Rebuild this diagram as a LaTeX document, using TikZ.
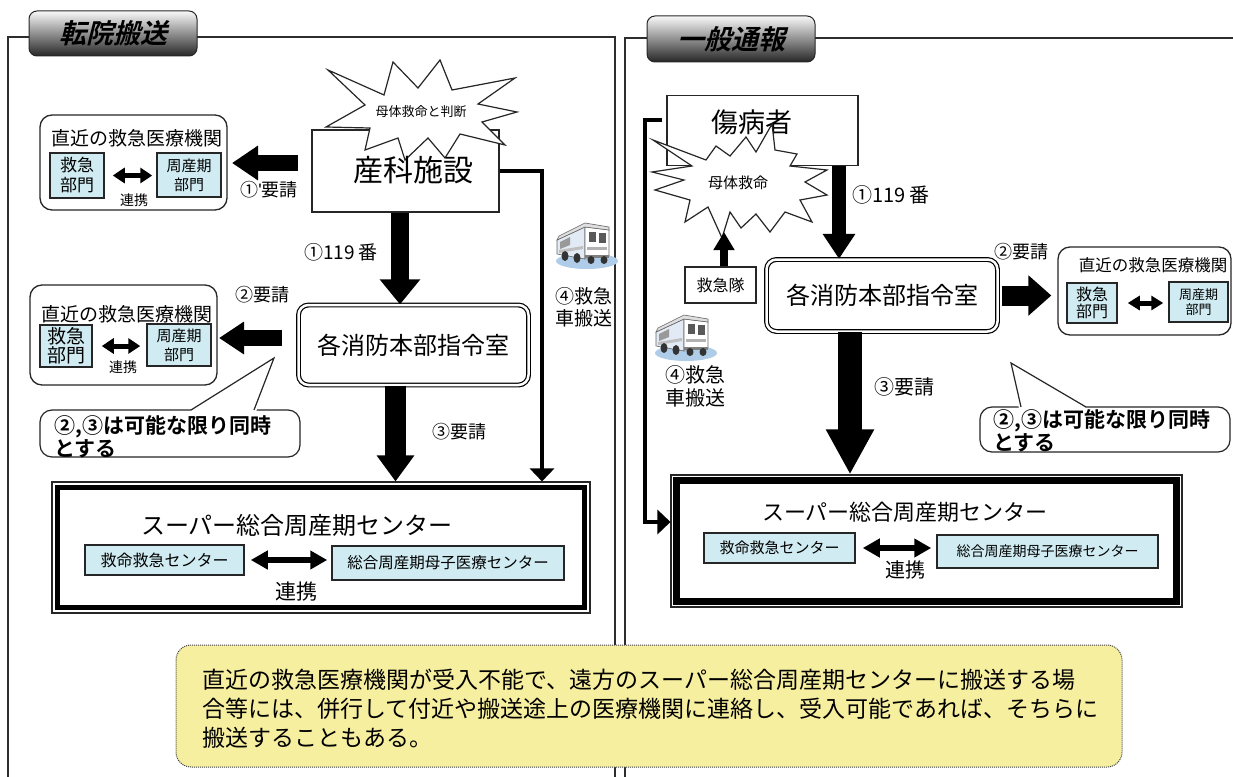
\documentclass[tikz,border=0pt]{standalone}
\usepackage{fontspec}
\setmainfont{Noto Sans CJK JP}[BoldFont={Noto Sans CJK JP Bold}]
\newfontfamily\tabfont{Noto Sans CJK JP Bold}[FakeSlant=0.25]
\newfontfamily\latinf{Liberation Sans}
\usetikzlibrary{arrows.meta,calc}
\definecolor{subblue}{RGB}{208,236,242}
\definecolor{noteyel}{RGB}{247,239,160}
\definecolor{framegray}{RGB}{45,45,45}
\definecolor{shadowblue}{RGB}{175,205,232}
\definecolor{sideblue}{RGB}{226,234,245}
\newcommand\fs[2]{\fontsize{#1pt}{#2pt}\selectfont}
\tikzset{
  t/.style={inner sep=0pt, align=center},
  frame/.style={draw=framegray, line width=1.6pt},
  tab/.style={draw=black!85, line width=1pt, rounded corners=8pt, top color=gray!5, middle color=gray!50, bottom color=black!85, inner sep=0pt},
  plainbox/.style={draw=black!85, line width=1.3pt, fill=white, inner sep=0pt},
  hospbox/.style={draw=black!85, line width=1.3pt, rounded corners=12pt, fill=white, inner sep=0pt},
  subbox/.style={draw=black!85, line width=1.5pt, fill=subblue, inner sep=0pt, align=center},
  dblbox/.style={draw=black, double=white, double distance=2.5pt, line width=1.2pt, rounded corners=10pt, fill=white, inner sep=0pt},
  superbox/.style={draw=black!85, line width=1.1pt, fill=white, inner sep=0pt},
  blk/.style n args={3}{draw=black, line width=#1, -{Triangle[width=#2,length=#3]}},
  twoway/.style n args={3}{draw=black, line width=#1, {Triangle[width=#2,length=#3]}-{Triangle[width=#2,length=#3]}},
  thinarr/.style={draw=black, line width=4pt, -{Triangle[width=24pt,length=13pt]}},
  burst/.style={draw=black!85, line width=1.2pt, fill=white, line join=miter},
  bubble/.style={draw=black!85, line width=1.2pt, fill=white},
  notebox/.style={draw=black!75, line width=1pt, dash pattern=on 1pt off 1pt, fill=noteyel, rounded corners=15pt},
  amb/.pic={
    \fill[shadowblue] (4,17) ellipse (31pt and 8pt);
    \filldraw[fill=sideblue, draw=black!60, line width=0.6pt] (-26,-4) -- (2,-17) -- (2,15) -- (-26,10) -- cycle;
    \filldraw[fill=white, draw=black!60, line width=0.6pt] (2,-17) -- (26,-14) -- (26,12) -- (2,15) -- cycle;
    \filldraw[fill=gray!25, draw=black!60, line width=0.6pt] (-26,-4) -- (-24,-8) -- (2,-21) -- (26,-17) -- (26,-14) -- (2,-17) -- cycle;
    \fill[black!65] (6,-12) rectangle (13,-2);
    \fill[black!65] (16,-11) rectangle (23,-1);
    \fill[black!40] (-23,-2) -- (-13,-7) -- (-13,1) -- (-23,5) -- cycle;
    \fill[black!30] (4,3) rectangle (24,6);
    \fill[black!25] (-24,6) -- (0,2) -- (0,5) -- (-24,9) -- cycle;
    \fill[black!50] (2,11) rectangle (26,14);
    \fill[black!80] (-18,12) ellipse (3.5pt and 5pt);
    \fill[black!80] (-6,14) ellipse (3.5pt and 5pt);
    \fill[black!80] (8,16) ellipse (3.5pt and 4pt);
    \fill[black!80] (21,16) ellipse (3.5pt and 4pt);
  }
}
\begin{document}
\begin{tikzpicture}[x=1pt,y=-1pt]
\useasboundingbox (0,0) rectangle (1233,776);
\fill[white] (0,0) rectangle (1233,776);

% ---------- frames and tabs ----------
\draw[frame] (8,800) -- (8,37) -- (615,37) -- (615,800);
\draw[frame] (625,800) -- (625,38) -- (1245,38);
\node[tab, minimum width=168pt, minimum height=45pt, font=\tabfont\fs{27}{30}] (tab1) at (113,33.5) {転院搬送};
\node[tab, minimum width=168pt, minimum height=46pt, font=\tabfont\fs{27}{30}] (tab2) at (731,39) {一般通報};

% ================= LEFT PANEL =================
\node[plainbox, minimum width=187pt, minimum height=82pt] (sanka) at (405.5,171) {};
\draw[burst] (328,70) -- (384,95) -- (393,62) -- (418,88) -- (440,60) -- (452,90) -- (515,78) -- (478,104) -- (517,112) -- (482,122) -- (505,145) -- (460,134) -- (445,158) -- (428,138) -- (405,160) -- (398,138) -- (365,150) -- (370,128) -- (326,127) -- (365,105) -- cycle;
\node[t, font=\fs{13}{14}] (star1t) at (421,112) {母体救命と判断};
\node[t, font=\fs{30}{32}] (sankat) at (413,170) {産科施設};

% nearest hospital 1
\node[hospbox, minimum width=187pt, minimum height=95pt] (hosp1) at (133.5,162.5) {};
\node[t, font=\fs{19}{20}] (hosp1t) at (137,138) {直近の救急医療機関};
\node[subbox, minimum width=54pt, minimum height=45pt, font=\fs{17}{20}] (kyu1) at (77,175.5) {救急\\部門};
\node[subbox, minimum width=64pt, minimum height=44pt, font=\fs{15}{19}] (shu1) at (189,175) {周産期\\部門};
\draw[twoway={5pt}{15pt}{12pt}, shorten <=8pt, shorten >=4pt] (kyu1.east) -- (kyu1.east -| shu1.west);
\node[t, font=\fs{14}{15}] (ren1) at (134,200) {連携};

\coordinate (a1s) at (298,163);
\coordinate (a1e) at (232,163);
\draw[blk={16pt}{33pt}{26pt}] (a1s) -- (a1e);
\node[t, font=\fs{18}{20}] (l1) at (269,190) {①{\latinf'}要請};

% dispatch 1
\node[dblbox, minimum width=230pt, minimum height=80pt, font=\fs{24}{26}] (shobo1) at (413.5,345) {各消防本部指令室};
\coordinate (ax1) at (400,0);
\draw[blk={18pt}{39pt}{25pt}] (sanka.south -| ax1) -- (shobo1.north -| ax1);
\node[t, font=\fs{19}{20}] (l2) at (341,252) {①119 番};

% nearest hospital 2
\node[hospbox, minimum width=187pt, minimum height=100pt] (hosp2) at (123.5,335) {};
\node[t, font=\fs{19}{20}] (hosp2t) at (127,314) {直近の救急医療機関};
\node[subbox, minimum width=52pt, minimum height=42pt, font=\fs{19}{19}] (kyu2) at (66,346) {救急\\部門};
\node[subbox, minimum width=64pt, minimum height=42pt, font=\fs{15}{19}] (shu2) at (179,345) {周産期\\部門};
\draw[twoway={5pt}{15pt}{12pt}, shorten <=9pt, shorten >=6pt] (kyu2.east) -- (kyu2.east -| shu2.west);
\node[t, font=\fs{14}{15}] (ren2) at (123,367) {連携};

\coordinate (a2s) at (282,338);
\coordinate (a2e) at (219,338);
\draw[blk={16pt}{31pt}{25pt}] (a2s) -- (a2e);
\node[t, font=\fs{18}{20}] (l3) at (262,295) {②要請};

% callout 1
\draw[bubble, rounded corners=12pt] (40,410) rectangle (300,457);
\fill[white] (189,412) -- (274,358) -- (256,412) -- cycle;
\coordinate (c1tip) at (274,358);
\draw[black!85, line width=1.2pt, line join=miter] (191,410) -- (c1tip) -- (254,410);
\node[t, anchor=west, align=left, font=\bfseries\fs{21}{18}] (c1t) at (54,437) {②,③は可能な限り同時\\とする};

% super center 1
\node[superbox, minimum width=538pt, minimum height=131pt] (super1) at (321,547.5) {};
\draw[black, line width=5pt] ([shift={(6.5,6.5)}]super1.north west) rectangle ([shift={(-6.5,-6.5)}]super1.south east);
\node[t, font=\fs{24}{26}] (super1t) at (297,525) {スーパー総合周産期センター};
\node[subbox, minimum width=159pt, minimum height=30pt, font=\fs{16}{18}] (kmq1) at (164.5,560) {救命救急センター};
\node[subbox, minimum width=232pt, minimum height=34pt, font=\fs{15.5}{18}] (sogo1) at (448,563) {総合周産期母子医療センター};
\draw[twoway={5.5pt}{18pt}{17pt}, shorten <=6pt, shorten >=4pt] (kmq1.east) -- (kmq1.east -| sogo1.west);
\node[t, font=\fs{21}{22}] (ren3) at (296,592) {連携};

\coordinate (ax3) at (395.5,0);
\draw[blk={21pt}{36pt}{26pt}] (shobo1.south -| ax3) -- (super1.north -| ax3);
\node[t, font=\fs{18}{20}] (l4) at (459,432) {③要請};

% ambulance transport 1
\coordinate (amb1) at (542,171);
\draw[thinarr, line join=miter] (sanka.east) -- (amb1) -- (amb1 |- super1.north);
\pic (ambpic1) at (583,244) {amb};
\node[t, font=\fs{19}{22}] (l5) at (584,307) {④救急\\車搬送};

% ================= RIGHT PANEL =================
\node[plainbox, minimum width=191pt, minimum height=70pt] (shoby) at (762.5,130.5) {};
\node[t, font=\fs{27}{29}] (shobyt) at (752,122) {傷病者};
\coordinate (br0) at (662,120);
\coordinate (br1) at (645,120);
\coordinate (br2) at (645,522);
\draw[burst] (653,140) -- (706,160) -- (716,146) -- (730,156) -- (746,137) -- (756,152) -- (772,124) -- (775,150) -- (797,154) -- (790,166) -- (827,170) -- (805,182) -- (827,195) -- (800,200) -- (812,222) -- (785,212) -- (770,232) -- (756,214) -- (741,228) -- (730,212) -- (722,238) -- (708,207) -- (685,222) -- (690,200) -- (655,190) -- (684,180) -- (652,172) -- (692,166) -- cycle;
\node[t, font=\fs{15}{16}] (star2t) at (738,183) {母体救命};

\node[plainbox, minimum width=71pt, minimum height=36pt, font=\fs{16}{18}] (kyutai) at (720.5,285) {救急隊};
\coordinate (kx) at (724,232);
\draw[blk={8pt}{20pt}{18pt}] (kyutai.north -| kx) -- (kx);

\node[dblbox, minimum width=231pt, minimum height=72pt, font=\fs{24}{26}] (shobo2) at (882,295.5) {各消防本部指令室};
\coordinate (bx1) at (839,0);
\draw[blk={14pt}{31pt}{25pt}] (shoby.south -| bx1) -- (shobo2.north -| bx1);
\node[t, font=\fs{20}{22}] (l6) at (891,195) {①119 番};

% nearest hospital 3
\node[hospbox, minimum width=173pt, minimum height=88pt] (hosp3) at (1144.5,291) {};
\node[t, font=\fs{16.5}{18}] (hosp3t) at (1153,265) {直近の救急医療機関};
\node[subbox, minimum width=50pt, minimum height=40pt, font=\fs{16}{17}] (kyu3) at (1092,303) {救急\\部門};
\node[subbox, minimum width=59pt, minimum height=40pt, font=\fs{13}{15}] (shu3) at (1198.5,302) {周産期\\部門};
\draw[twoway={5pt}{14pt}{12pt}, shorten <=10pt, shorten >=5pt] (kyu3.east) -- (kyu3.east -| shu3.west);

\draw[blk={20pt}{39pt}{23pt}, shorten <=4pt, shorten >=6pt] (shobo2.east) -- (shobo2.east -| hosp3.west);
\node[t, font=\fs{18}{20}] (l7) at (1021,252) {②要請};

% super center 2
\node[superbox, minimum width=511pt, minimum height=132pt] (super2) at (926.5,541) {};
\draw[black, line width=6.5pt] ([shift={(6,6)}]super2.north west) rectangle ([shift={(-6,-6)}]super2.south east);
\node[t, font=\fs{22}{24}] (super2t) at (905,512) {スーパー総合周産期センター};
\node[subbox, minimum width=151pt, minimum height=30pt, font=\fs{15}{17}] (kmq2) at (779.5,548) {救命救急センター};
\node[subbox, minimum width=221pt, minimum height=33pt, font=\fs{14}{16}] (sogo2) at (1047.5,551.5) {総合周産期母子医療センター};
\draw[twoway={5.5pt}{18pt}{17pt}, shorten <=7pt, shorten >=5pt] (kmq2.east) -- (kmq2.east -| sogo2.west);
\node[t, font=\fs{20}{22}] (ren4) at (905,570) {連携};

\coordinate (bx3) at (850,0);
\draw[blk={24pt}{45pt}{45pt}] (shobo2.south -| bx3) -- (super2.north -| bx3);
\node[t, font=\fs{20}{22}] (l8) at (904,387) {③要請};

% ambulance transport 2
\draw[thinarr, line join=miter] (br0) -- (br1) -- (br2) -- (br2 -| super2.west);
\pic (ambpic2) at (682,336) {amb};
\node[t, font=\fs{20}{23}] (l9) at (695,386.5) {④救急\\車搬送};

% callout 2
\draw[bubble, rounded corners=12pt] (980,407) rectangle (1230,452);
\fill[white] (1019,409) -- (1011,363) -- (1088,409) -- cycle;
\coordinate (c2tip) at (1011,363);
\draw[black!85, line width=1.2pt, line join=miter] (1021,407) -- (c2tip) -- (1086,407);
\node[t, anchor=west, align=left, font=\bfseries\fs{21}{18}] (c2t) at (993,431) {②,③は可能な限り同時\\とする};

% ================= NOTE =================
\node[notebox, minimum width=946pt, minimum height=122pt] (note) at (649,706) {};
\node[t, anchor=west, align=left, font=\fs{23}{29}] (notet) at (202,709) {直近の救急医療機関が受入不能で、遠方のスーパー総合周産期センターに搬送する場\\合等には、併行して付近や搬送途上の医療機関に連絡し、受入可能であれば、そちらに\\搬送することもある。};
\end{tikzpicture}
\end{document}
